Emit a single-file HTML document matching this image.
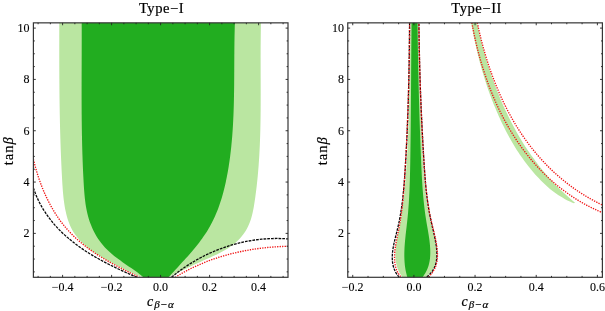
<!DOCTYPE html>
<html lang="en">
<head>
<meta charset="utf-8">
<title>Type-I / Type-II</title>
<style>
html,body{margin:0;padding:0;background:#fff;}
body{width:605px;height:311px;overflow:hidden;}
svg{display:block;}
</style>
</head>
<body>
<svg width="605" height="311" viewBox="0 0 605 311">
<rect x="0" y="0" width="605" height="311" fill="#ffffff"/>
<defs><clipPath id="cl"><rect x="33.40" y="22.85" width="254.60" height="254.45"/></clipPath><clipPath id="cr"><rect x="347.75" y="22.85" width="254.65" height="254.45"/></clipPath></defs>
<g clip-path="url(#cl)">
<path d="M59.30 22.50C59.30 23.35 59.29 25.92 59.29 27.63C59.29 29.33 59.28 31.04 59.28 32.75C59.28 34.45 59.27 36.16 59.27 37.87C59.27 39.57 59.27 41.28 59.27 42.98C59.27 44.69 59.26 46.39 59.26 48.10C59.26 49.80 59.26 51.51 59.26 53.21C59.27 54.91 59.27 56.62 59.27 58.32C59.27 60.02 59.28 61.72 59.28 63.43C59.28 65.13 59.29 66.83 59.30 68.53C59.30 70.23 59.31 71.94 59.32 73.64C59.32 75.34 59.33 77.04 59.34 78.74C59.35 80.44 59.37 82.14 59.38 83.84C59.39 85.55 59.41 87.25 59.42 88.95C59.44 90.65 59.45 92.35 59.47 94.05C59.49 95.75 59.51 97.45 59.53 99.15C59.55 100.85 59.58 102.55 59.60 104.25C59.63 105.95 59.65 107.65 59.68 109.35C59.71 111.05 59.74 112.75 59.77 114.46C59.80 116.16 59.84 117.86 59.87 119.56C59.91 121.26 59.95 122.96 59.99 124.66C60.03 126.36 60.07 128.07 60.11 129.77C60.16 131.47 60.20 133.17 60.25 134.87C60.30 136.58 60.35 138.28 60.41 139.98C60.46 141.68 60.51 143.39 60.57 145.09C60.63 146.79 60.69 148.50 60.75 150.20C60.82 151.91 60.88 153.61 60.95 155.32C61.02 157.02 61.09 158.73 61.17 160.43C61.24 162.14 61.32 163.85 61.40 165.55C61.48 167.26 61.56 168.97 61.64 170.67C61.73 172.38 61.82 174.09 61.91 175.80C62.00 177.51 62.09 179.22 62.19 180.93C62.29 182.64 62.39 184.35 62.51 186.06C62.62 187.77 62.74 189.48 62.88 191.18C63.02 192.88 63.17 194.58 63.35 196.28C63.52 197.98 63.72 199.67 63.94 201.35C64.17 203.04 64.41 204.71 64.70 206.38C64.99 208.05 65.30 209.71 65.66 211.36C66.01 213.01 66.40 214.66 66.85 216.28C67.29 217.91 67.77 219.53 68.32 221.11C68.87 222.70 69.46 224.27 70.14 225.80C70.82 227.33 71.56 228.84 72.39 230.29C73.22 231.75 74.14 233.17 75.12 234.54C76.09 235.92 77.15 237.25 78.25 238.54C79.36 239.83 80.53 241.07 81.73 242.27C82.93 243.47 84.19 244.62 85.48 245.73C86.76 246.85 88.09 247.91 89.44 248.95C90.79 249.98 92.18 250.97 93.59 251.94C94.99 252.91 96.43 253.84 97.88 254.75C99.33 255.66 100.81 256.54 102.30 257.41C103.78 258.27 105.29 259.11 106.79 259.95C108.30 260.78 109.82 261.59 111.34 262.40C112.86 263.21 114.38 264.00 115.90 264.80C117.42 265.59 118.93 266.38 120.44 267.17C121.95 267.96 123.45 268.76 124.95 269.54C126.46 270.31 127.96 271.08 129.48 271.81C130.99 272.54 132.51 273.26 134.06 273.92C135.60 274.58 137.16 275.21 138.75 275.78C140.34 276.34 142.79 277.05 143.60 277.30L168.50 277.30C169.25 276.93 171.49 275.80 172.98 275.06C174.48 274.31 175.98 273.57 177.48 272.83C178.97 272.09 180.48 271.35 181.98 270.62C183.49 269.88 185.00 269.15 186.51 268.42C188.03 267.69 189.55 266.97 191.07 266.25C192.60 265.52 194.13 264.81 195.67 264.09C197.21 263.37 198.76 262.66 200.31 261.95C201.87 261.24 203.43 260.53 205.01 259.83C206.58 259.12 208.16 258.43 209.74 257.71C211.32 257.00 212.91 256.29 214.48 255.55C216.05 254.81 217.62 254.07 219.16 253.28C220.71 252.50 222.24 251.70 223.74 250.85C225.24 250.00 226.72 249.13 228.16 248.19C229.59 247.26 231.00 246.28 232.36 245.25C233.71 244.22 235.03 243.14 236.29 242.01C237.55 240.87 238.76 239.69 239.90 238.46C241.04 237.23 242.13 235.95 243.13 234.62C244.14 233.30 245.08 231.92 245.93 230.50C246.78 229.09 247.55 227.62 248.25 226.11C248.95 224.61 249.56 223.06 250.12 221.49C250.69 219.92 251.18 218.31 251.63 216.68C252.09 215.05 252.48 213.39 252.84 211.72C253.21 210.05 253.52 208.35 253.83 206.66C254.13 204.96 254.39 203.25 254.65 201.54C254.91 199.84 255.15 198.12 255.39 196.41C255.63 194.70 255.85 193.00 256.07 191.29C256.28 189.58 256.49 187.87 256.68 186.16C256.88 184.46 257.06 182.75 257.24 181.04C257.42 179.33 257.59 177.63 257.75 175.92C257.91 174.22 258.06 172.51 258.20 170.80C258.35 169.10 258.48 167.39 258.61 165.69C258.74 163.98 258.86 162.28 258.97 160.57C259.09 158.87 259.19 157.16 259.29 155.46C259.39 153.76 259.48 152.05 259.57 150.35C259.66 148.65 259.74 146.94 259.81 145.24C259.88 143.53 259.95 141.83 260.01 140.13C260.08 138.43 260.13 136.72 260.19 135.02C260.24 133.32 260.28 131.61 260.33 129.91C260.37 128.21 260.41 126.51 260.44 124.80C260.48 123.10 260.50 121.40 260.53 119.70C260.56 117.99 260.58 116.29 260.60 114.59C260.62 112.89 260.63 111.19 260.65 109.48C260.66 107.78 260.67 106.08 260.68 104.38C260.68 102.67 260.69 100.97 260.69 99.27C260.70 97.57 260.70 95.86 260.70 94.16C260.70 92.46 260.70 90.75 260.69 89.05C260.69 87.35 260.69 85.64 260.68 83.94C260.68 82.24 260.67 80.53 260.67 78.83C260.66 77.13 260.66 75.42 260.65 73.72C260.65 72.01 260.64 70.31 260.64 68.61C260.63 66.90 260.63 65.20 260.63 63.49C260.62 61.79 260.62 60.08 260.62 58.37C260.62 56.67 260.62 54.96 260.63 53.26C260.63 51.55 260.64 49.84 260.64 48.14C260.65 46.43 260.66 44.72 260.68 43.01C260.69 41.31 260.71 39.60 260.73 37.89C260.75 36.18 260.77 34.47 260.79 32.76C260.82 31.05 260.85 29.34 260.89 27.63C260.92 25.92 260.98 23.36 261.00 22.50Z" fill="#bae6a1"/>
<path d="M81.70 22.50C81.70 23.37 81.71 25.97 81.72 27.70C81.72 29.44 81.72 31.17 81.72 32.90C81.73 34.63 81.73 36.36 81.73 38.09C81.73 39.82 81.72 41.55 81.72 43.27C81.72 45.00 81.72 46.73 81.71 48.45C81.71 50.18 81.70 51.90 81.70 53.62C81.69 55.35 81.69 57.07 81.68 58.79C81.68 60.51 81.67 62.23 81.67 63.95C81.66 65.67 81.65 67.39 81.65 69.11C81.64 70.83 81.64 72.55 81.63 74.27C81.63 75.99 81.62 77.71 81.62 79.42C81.61 81.14 81.61 82.86 81.61 84.57C81.61 86.29 81.60 88.01 81.60 89.73C81.60 91.44 81.60 93.16 81.60 94.87C81.60 96.59 81.61 98.31 81.61 100.02C81.61 101.74 81.62 103.46 81.63 105.17C81.63 106.89 81.64 108.61 81.65 110.32C81.66 112.04 81.67 113.76 81.69 115.48C81.70 117.19 81.72 118.91 81.73 120.63C81.75 122.35 81.77 124.07 81.79 125.79C81.82 127.51 81.84 129.23 81.87 130.95C81.90 132.67 81.93 134.39 81.96 136.11C81.99 137.83 82.03 139.55 82.07 141.28C82.11 143.00 82.15 144.73 82.19 146.45C82.24 148.18 82.28 149.90 82.33 151.63C82.39 153.36 82.44 155.08 82.50 156.81C82.56 158.54 82.62 160.27 82.68 162.00C82.75 163.73 82.82 165.47 82.89 167.20C82.96 168.94 83.04 170.67 83.12 172.41C83.20 174.14 83.29 175.88 83.38 177.62C83.47 179.36 83.56 181.10 83.66 182.84C83.76 184.58 83.86 186.33 83.98 188.07C84.10 189.81 84.22 191.56 84.37 193.29C84.51 195.03 84.67 196.76 84.87 198.49C85.06 200.22 85.27 201.94 85.51 203.65C85.76 205.36 86.04 207.06 86.36 208.75C86.67 210.44 87.03 212.12 87.43 213.78C87.83 215.44 88.27 217.09 88.77 218.72C89.26 220.35 89.81 221.96 90.40 223.55C90.99 225.14 91.63 226.71 92.32 228.25C93.01 229.80 93.75 231.32 94.54 232.81C95.33 234.29 96.17 235.76 97.06 237.18C97.95 238.61 98.89 240.01 99.89 241.37C100.88 242.73 101.93 244.05 103.03 245.33C104.13 246.62 105.28 247.86 106.48 249.06C107.68 250.27 108.94 251.43 110.22 252.57C111.51 253.71 112.84 254.81 114.19 255.89C115.55 256.97 116.94 258.02 118.34 259.06C119.74 260.10 121.16 261.12 122.59 262.13C124.02 263.15 125.47 264.14 126.91 265.14C128.35 266.13 129.80 267.12 131.22 268.12C132.65 269.11 134.08 270.10 135.48 271.11C136.88 272.12 138.28 273.12 139.63 274.16C140.98 275.19 142.94 276.78 143.60 277.30L168.50 277.30C169.07 276.67 170.76 274.76 171.91 273.50C173.06 272.23 174.22 270.97 175.38 269.70C176.54 268.44 177.71 267.17 178.88 265.90C180.05 264.63 181.22 263.36 182.39 262.09C183.56 260.81 184.73 259.54 185.89 258.25C187.05 256.97 188.21 255.68 189.35 254.38C190.50 253.08 191.63 251.77 192.75 250.45C193.87 249.14 194.98 247.81 196.07 246.47C197.15 245.14 198.22 243.79 199.27 242.43C200.32 241.06 201.34 239.69 202.34 238.30C203.34 236.91 204.31 235.50 205.25 234.08C206.19 232.65 207.10 231.21 207.98 229.76C208.86 228.30 209.70 226.82 210.51 225.33C211.33 223.83 212.10 222.32 212.85 220.80C213.60 219.27 214.32 217.73 215.01 216.17C215.70 214.62 216.36 213.05 217.00 211.46C217.63 209.88 218.24 208.28 218.82 206.68C219.40 205.07 219.95 203.45 220.49 201.82C221.02 200.20 221.52 198.56 222.01 196.91C222.49 195.26 222.96 193.61 223.40 191.95C223.84 190.28 224.26 188.61 224.66 186.94C225.06 185.26 225.44 183.58 225.81 181.89C226.17 180.21 226.52 178.52 226.85 176.82C227.18 175.13 227.49 173.43 227.79 171.74C228.09 170.04 228.38 168.34 228.65 166.64C228.92 164.94 229.18 163.24 229.43 161.53C229.67 159.83 229.91 158.13 230.13 156.42C230.35 154.72 230.55 153.01 230.75 151.30C230.95 149.60 231.13 147.89 231.31 146.18C231.48 144.47 231.65 142.76 231.80 141.05C231.96 139.34 232.10 137.63 232.24 135.92C232.37 134.21 232.49 132.49 232.61 130.78C232.73 129.07 232.84 127.35 232.94 125.64C233.04 123.92 233.13 122.21 233.21 120.49C233.30 118.78 233.37 117.06 233.45 115.34C233.52 113.63 233.58 111.91 233.64 110.19C233.70 108.47 233.75 106.76 233.80 105.04C233.84 103.32 233.89 101.60 233.92 99.88C233.96 98.16 233.99 96.44 234.02 94.72C234.05 93.00 234.08 91.28 234.10 89.56C234.12 87.84 234.14 86.12 234.16 84.40C234.17 82.68 234.19 80.96 234.20 79.24C234.21 77.52 234.22 75.79 234.23 74.07C234.24 72.35 234.25 70.63 234.26 68.91C234.27 67.19 234.28 65.47 234.28 63.75C234.29 62.03 234.30 60.31 234.31 58.59C234.32 56.86 234.33 55.14 234.34 53.42C234.36 51.70 234.37 49.98 234.39 48.26C234.40 46.54 234.42 44.83 234.44 43.11C234.47 41.39 234.49 39.67 234.52 37.95C234.55 36.23 234.58 34.51 234.62 32.80C234.66 31.08 234.70 29.36 234.74 27.65C234.79 25.93 234.87 23.36 234.90 22.50Z" fill="#22ad20"/>
<path d="M33.40 159.30C33.61 160.13 34.21 162.64 34.65 164.31C35.08 165.97 35.54 167.64 36.02 169.30C36.50 170.97 37.00 172.63 37.52 174.28C38.04 175.94 38.58 177.59 39.15 179.24C39.72 180.88 40.31 182.52 40.92 184.15C41.53 185.78 42.16 187.40 42.82 189.01C43.48 190.63 44.16 192.23 44.87 193.82C45.58 195.41 46.31 196.99 47.06 198.55C47.82 200.11 48.60 201.67 49.40 203.20C50.21 204.74 51.04 206.26 51.89 207.76C52.75 209.26 53.63 210.75 54.54 212.21C55.45 213.68 56.38 215.13 57.34 216.56C58.30 217.98 59.29 219.39 60.30 220.78C61.32 222.16 62.36 223.52 63.43 224.86C64.50 226.20 65.59 227.51 66.72 228.80C67.84 230.08 69.00 231.35 70.18 232.58C71.36 233.82 72.57 235.03 73.80 236.21C75.03 237.40 76.29 238.56 77.57 239.70C78.85 240.84 80.15 241.96 81.47 243.05C82.80 244.15 84.14 245.22 85.51 246.27C86.87 247.32 88.25 248.35 89.65 249.37C91.05 250.38 92.47 251.37 93.90 252.35C95.34 253.32 96.78 254.28 98.24 255.22C99.70 256.16 101.18 257.08 102.66 257.98C104.15 258.89 105.65 259.78 107.15 260.66C108.66 261.53 110.18 262.39 111.70 263.24C113.22 264.09 114.75 264.92 116.29 265.75C117.82 266.57 119.37 267.38 120.91 268.18C122.45 268.97 124.00 269.76 125.55 270.54C127.10 271.32 128.66 272.08 130.21 272.84C131.76 273.60 133.31 274.35 134.86 275.09C136.41 275.84 138.73 276.93 139.50 277.30" fill="none" stroke="#f01414" stroke-width="1.35" stroke-dasharray="1.3 1.2"/>
<path d="M175.20 277.30C175.97 276.84 178.26 275.42 179.80 274.51C181.35 273.61 182.91 272.73 184.49 271.87C186.06 271.01 187.65 270.18 189.24 269.37C190.84 268.56 192.45 267.77 194.07 267.00C195.69 266.24 197.32 265.50 198.96 264.78C200.60 264.06 202.25 263.37 203.91 262.70C205.57 262.02 207.24 261.37 208.92 260.74C210.60 260.11 212.29 259.51 213.98 258.92C215.68 258.34 217.38 257.78 219.09 257.23C220.80 256.69 222.52 256.17 224.24 255.67C225.97 255.18 227.70 254.70 229.44 254.24C231.18 253.78 232.92 253.35 234.67 252.93C236.42 252.52 238.17 252.12 239.93 251.75C241.69 251.37 243.45 251.02 245.22 250.68C246.98 250.35 248.75 250.03 250.53 249.74C252.30 249.44 254.08 249.17 255.86 248.91C257.64 248.65 259.42 248.42 261.20 248.20C262.99 247.98 264.77 247.78 266.56 247.60C268.34 247.42 270.13 247.26 271.92 247.11C273.71 246.97 275.50 246.84 277.28 246.73C279.07 246.63 280.86 246.54 282.64 246.46C284.43 246.39 287.11 246.33 288.00 246.30" fill="none" stroke="#f01414" stroke-width="1.35" stroke-dasharray="1.3 1.2"/>
<path d="M33.40 187.90C33.70 188.75 34.57 191.33 35.22 193.00C35.86 194.67 36.55 196.31 37.27 197.93C37.99 199.54 38.75 201.13 39.55 202.69C40.35 204.25 41.18 205.78 42.05 207.28C42.92 208.79 43.82 210.26 44.76 211.71C45.69 213.16 46.66 214.59 47.66 215.99C48.66 217.39 49.69 218.76 50.76 220.11C51.82 221.46 52.91 222.78 54.03 224.08C55.15 225.38 56.30 226.66 57.47 227.91C58.64 229.16 59.85 230.39 61.07 231.60C62.29 232.80 63.55 233.98 64.82 235.14C66.09 236.30 67.39 237.44 68.71 238.55C70.02 239.67 71.36 240.76 72.72 241.84C74.08 242.91 75.46 243.96 76.85 244.99C78.25 246.02 79.67 247.04 81.10 248.03C82.53 249.02 83.97 249.99 85.44 250.94C86.90 251.89 88.38 252.83 89.86 253.74C91.35 254.66 92.86 255.56 94.37 256.44C95.88 257.33 97.41 258.19 98.94 259.04C100.47 259.90 102.01 260.73 103.56 261.55C105.11 262.38 106.67 263.19 108.23 263.99C109.79 264.78 111.36 265.57 112.93 266.34C114.50 267.12 116.07 267.88 117.65 268.63C119.22 269.39 120.80 270.13 122.37 270.87C123.95 271.60 125.53 272.33 127.10 273.05C128.67 273.77 130.25 274.48 131.81 275.19C133.38 275.90 135.72 276.95 136.50 277.30" fill="none" stroke="#0a0a0a" stroke-width="1.3" stroke-dasharray="2.7 1.05"/>
<path d="M171.50 277.30C172.18 276.75 174.20 275.08 175.57 274.00C176.94 272.92 178.33 271.86 179.74 270.82C181.14 269.79 182.57 268.77 184.00 267.78C185.44 266.79 186.90 265.82 188.36 264.88C189.83 263.93 191.31 263.01 192.81 262.11C194.31 261.21 195.82 260.34 197.34 259.48C198.86 258.63 200.40 257.80 201.95 257.00C203.50 256.20 205.06 255.42 206.63 254.66C208.21 253.90 209.79 253.17 211.39 252.47C212.98 251.76 214.59 251.08 216.21 250.42C217.82 249.77 219.45 249.14 221.09 248.53C222.72 247.93 224.37 247.35 226.02 246.80C227.68 246.25 229.34 245.72 231.01 245.22C232.68 244.72 234.36 244.25 236.04 243.80C237.73 243.35 239.42 242.93 241.12 242.54C242.82 242.15 244.53 241.78 246.24 241.45C247.95 241.11 249.67 240.80 251.39 240.52C253.11 240.24 254.84 239.99 256.57 239.76C258.30 239.54 260.03 239.34 261.77 239.18C263.51 239.01 265.25 238.87 266.99 238.76C268.74 238.66 270.48 238.58 272.23 238.53C273.98 238.48 275.73 238.46 277.48 238.47C279.24 238.48 280.99 238.52 282.74 238.59C284.49 238.67 287.12 238.85 288.00 238.90" fill="none" stroke="#0a0a0a" stroke-width="1.3" stroke-dasharray="2.7 1.05"/>
</g>
<g clip-path="url(#cr)">
<path d="M410.60 22.50C410.58 23.36 410.53 25.93 410.49 27.64C410.46 29.35 410.43 31.07 410.39 32.78C410.36 34.49 410.33 36.21 410.30 37.92C410.27 39.64 410.24 41.35 410.21 43.07C410.18 44.78 410.15 46.50 410.12 48.22C410.09 49.93 410.07 51.65 410.04 53.36C410.01 55.08 409.98 56.80 409.96 58.52C409.93 60.23 409.90 61.95 409.87 63.67C409.85 65.38 409.82 67.10 409.79 68.82C409.76 70.54 409.73 72.25 409.70 73.97C409.67 75.69 409.64 77.41 409.61 79.13C409.58 80.84 409.55 82.56 409.52 84.28C409.49 86.00 409.45 87.72 409.42 89.43C409.39 91.15 409.35 92.87 409.31 94.59C409.28 96.30 409.24 98.02 409.20 99.74C409.16 101.46 409.12 103.18 409.08 104.89C409.03 106.61 408.99 108.33 408.94 110.04C408.90 111.76 408.85 113.48 408.80 115.20C408.75 116.91 408.69 118.63 408.64 120.34C408.58 122.06 408.53 123.78 408.47 125.49C408.41 127.21 408.35 128.92 408.28 130.64C408.22 132.35 408.15 134.07 408.08 135.78C408.01 137.50 407.94 139.21 407.86 140.92C407.79 142.64 407.71 144.35 407.63 146.06C407.54 147.78 407.46 149.49 407.37 151.20C407.28 152.91 407.19 154.62 407.09 156.34C407.00 158.05 406.90 159.76 406.79 161.47C406.69 163.18 406.58 164.89 406.47 166.59C406.36 168.30 406.25 170.01 406.13 171.72C406.01 173.43 405.89 175.13 405.76 176.84C405.63 178.55 405.50 180.25 405.35 181.96C405.21 183.66 405.07 185.37 404.91 187.07C404.76 188.78 404.60 190.48 404.43 192.19C404.26 193.90 404.08 195.60 403.89 197.31C403.70 199.01 403.51 200.72 403.30 202.42C403.09 204.13 402.87 205.83 402.64 207.54C402.42 209.25 402.18 210.95 401.92 212.66C401.67 214.37 401.41 216.08 401.13 217.79C400.85 219.49 400.56 221.20 400.25 222.91C399.95 224.63 399.63 226.34 399.30 228.05C398.96 229.76 398.61 231.47 398.27 233.18C397.93 234.89 397.58 236.61 397.26 238.31C396.95 240.01 396.64 241.71 396.38 243.41C396.13 245.10 395.89 246.79 395.73 248.46C395.57 250.14 395.44 251.80 395.40 253.46C395.37 255.11 395.39 256.75 395.51 258.38C395.63 260.00 395.83 261.62 396.15 263.21C396.47 264.80 396.88 266.38 397.43 267.93C397.97 269.49 398.63 271.03 399.44 272.54C400.25 274.05 401.82 276.26 402.30 277.00L425.70 277.00C426.41 276.37 428.76 274.55 429.97 273.23C431.19 271.91 432.17 270.51 433.00 269.07C433.83 267.63 434.46 266.12 434.96 264.59C435.47 263.06 435.79 261.47 436.03 259.86C436.26 258.26 436.35 256.61 436.37 254.96C436.39 253.31 436.30 251.63 436.17 249.95C436.03 248.28 435.82 246.59 435.57 244.90C435.33 243.20 435.02 241.51 434.69 239.80C434.36 238.10 433.98 236.40 433.60 234.69C433.21 232.98 432.80 231.27 432.39 229.55C431.98 227.84 431.55 226.12 431.15 224.40C430.75 222.69 430.34 220.97 429.96 219.25C429.59 217.54 429.23 215.82 428.90 214.10C428.56 212.39 428.25 210.67 427.95 208.95C427.65 207.24 427.38 205.52 427.11 203.81C426.85 202.09 426.61 200.37 426.37 198.66C426.14 196.94 425.93 195.23 425.72 193.51C425.52 191.79 425.33 190.08 425.15 188.36C424.97 186.64 424.81 184.93 424.65 183.21C424.49 181.49 424.34 179.78 424.20 178.06C424.06 176.34 423.93 174.62 423.81 172.91C423.68 171.19 423.56 169.47 423.45 167.75C423.33 166.03 423.23 164.31 423.12 162.59C423.01 160.87 422.91 159.14 422.81 157.42C422.70 155.70 422.60 153.98 422.51 152.25C422.41 150.53 422.31 148.80 422.22 147.08C422.12 145.35 422.03 143.63 421.94 141.90C421.85 140.17 421.76 138.45 421.68 136.72C421.59 134.99 421.51 133.26 421.43 131.53C421.34 129.81 421.26 128.08 421.18 126.35C421.11 124.62 421.03 122.89 420.95 121.16C420.88 119.43 420.80 117.70 420.73 115.97C420.66 114.24 420.59 112.50 420.52 110.77C420.45 109.04 420.39 107.31 420.32 105.58C420.26 103.85 420.19 102.11 420.13 100.38C420.07 98.65 420.01 96.92 419.95 95.18C419.89 93.45 419.83 91.72 419.77 89.99C419.72 88.25 419.66 86.52 419.61 84.79C419.56 83.06 419.50 81.32 419.45 79.59C419.40 77.86 419.35 76.12 419.31 74.39C419.26 72.66 419.21 70.93 419.17 69.19C419.12 67.46 419.08 65.73 419.03 64.00C418.99 62.27 418.95 60.53 418.91 58.80C418.87 57.07 418.83 55.34 418.79 53.61C418.75 51.88 418.71 50.15 418.68 48.42C418.64 46.69 418.60 44.96 418.57 43.23C418.53 41.50 418.50 39.77 418.47 38.04C418.44 36.31 418.40 34.59 418.37 32.86C418.34 31.13 418.31 29.40 418.28 27.68C418.26 25.95 418.21 23.36 418.20 22.50Z" fill="#bae6a1"/>
<path d="M411.60 22.50C411.59 23.35 411.56 25.91 411.54 27.61C411.52 29.32 411.50 31.02 411.48 32.73C411.46 34.43 411.44 36.14 411.43 37.84C411.41 39.54 411.39 41.25 411.38 42.95C411.36 44.66 411.35 46.36 411.33 48.07C411.32 49.77 411.30 51.48 411.29 53.18C411.27 54.89 411.26 56.59 411.25 58.29C411.23 60.00 411.22 61.70 411.21 63.41C411.19 65.11 411.18 66.82 411.17 68.52C411.16 70.23 411.15 71.93 411.13 73.64C411.12 75.34 411.11 77.04 411.10 78.75C411.09 80.45 411.07 82.16 411.06 83.86C411.05 85.57 411.04 87.27 411.03 88.98C411.01 90.68 411.00 92.39 410.99 94.09C410.98 95.79 410.97 97.50 410.95 99.20C410.94 100.91 410.93 102.61 410.91 104.32C410.90 106.02 410.89 107.73 410.87 109.43C410.86 111.14 410.85 112.84 410.83 114.54C410.82 116.25 410.80 117.95 410.79 119.66C410.77 121.36 410.75 123.07 410.74 124.77C410.72 126.47 410.70 128.18 410.69 129.88C410.67 131.59 410.65 133.29 410.63 135.00C410.61 136.70 410.59 138.41 410.57 140.11C410.55 141.81 410.53 143.52 410.50 145.22C410.48 146.93 410.46 148.63 410.43 150.34C410.41 152.04 410.38 153.74 410.36 155.45C410.33 157.15 410.30 158.86 410.28 160.56C410.25 162.26 410.22 163.97 410.19 165.67C410.15 167.38 410.12 169.08 410.08 170.79C410.05 172.49 410.01 174.19 409.96 175.90C409.92 177.60 409.87 179.30 409.82 181.01C409.77 182.71 409.71 184.42 409.65 186.12C409.58 187.82 409.51 189.53 409.44 191.23C409.36 192.93 409.28 194.63 409.19 196.34C409.10 198.04 409.00 199.74 408.90 201.44C408.79 203.15 408.68 204.85 408.55 206.55C408.43 208.25 408.29 209.95 408.15 211.65C408.00 213.36 407.85 215.06 407.69 216.76C407.52 218.46 407.34 220.16 407.15 221.86C406.97 223.56 406.77 225.26 406.57 226.96C406.37 228.65 406.17 230.35 405.97 232.05C405.78 233.75 405.59 235.44 405.41 237.14C405.23 238.83 405.06 240.52 404.92 242.21C404.78 243.90 404.65 245.59 404.55 247.28C404.46 248.96 404.38 250.65 404.35 252.33C404.31 254.01 404.31 255.69 404.35 257.36C404.39 259.04 404.47 260.71 404.60 262.38C404.73 264.05 404.91 265.72 405.15 267.38C405.39 269.04 405.67 270.70 406.03 272.35C406.39 274.01 407.09 276.48 407.30 277.30L422.70 277.00C423.19 276.26 424.79 274.06 425.64 272.55C426.48 271.04 427.17 269.50 427.76 267.95C428.35 266.39 428.80 264.81 429.17 263.22C429.54 261.62 429.80 260.01 429.98 258.38C430.17 256.75 430.25 255.11 430.29 253.45C430.32 251.80 430.28 250.13 430.20 248.46C430.11 246.79 429.97 245.10 429.80 243.41C429.63 241.73 429.40 240.03 429.17 238.33C428.93 236.63 428.66 234.92 428.38 233.21C428.10 231.50 427.80 229.79 427.50 228.07C427.21 226.36 426.90 224.64 426.61 222.93C426.32 221.21 426.04 219.49 425.78 217.78C425.51 216.06 425.27 214.35 425.04 212.64C424.80 210.92 424.59 209.21 424.38 207.50C424.18 205.79 423.99 204.08 423.81 202.37C423.63 200.66 423.46 198.95 423.31 197.24C423.15 195.53 423.01 193.82 422.87 192.11C422.73 190.40 422.61 188.69 422.49 186.98C422.37 185.27 422.26 183.57 422.15 181.86C422.05 180.15 421.95 178.44 421.86 176.74C421.77 175.03 421.68 173.32 421.60 171.61C421.51 169.90 421.44 168.19 421.36 166.49C421.28 164.78 421.21 163.07 421.14 161.36C421.07 159.65 421.00 157.94 420.93 156.23C420.86 154.52 420.79 152.81 420.72 151.10C420.65 149.39 420.59 147.68 420.52 145.96C420.46 144.25 420.39 142.54 420.33 140.83C420.26 139.11 420.20 137.40 420.14 135.69C420.08 133.98 420.02 132.26 419.96 130.55C419.90 128.83 419.84 127.12 419.79 125.41C419.73 123.69 419.67 121.98 419.62 120.26C419.56 118.55 419.51 116.83 419.46 115.12C419.40 113.40 419.35 111.69 419.30 109.97C419.25 108.26 419.20 106.54 419.15 104.83C419.10 103.11 419.05 101.39 419.00 99.68C418.96 97.96 418.91 96.25 418.87 94.53C418.82 92.81 418.78 91.10 418.73 89.38C418.69 87.67 418.65 85.95 418.60 84.23C418.56 82.52 418.52 80.80 418.48 79.08C418.44 77.37 418.40 75.65 418.37 73.94C418.33 72.22 418.29 70.50 418.26 68.79C418.22 67.07 418.18 65.36 418.15 63.64C418.12 61.92 418.08 60.21 418.05 58.49C418.02 56.78 417.99 55.06 417.96 53.35C417.93 51.63 417.90 49.92 417.87 48.20C417.84 46.49 417.81 44.77 417.78 43.06C417.76 41.34 417.73 39.63 417.71 37.92C417.68 36.20 417.66 34.49 417.63 32.78C417.61 31.06 417.59 29.35 417.56 27.64C417.54 25.92 417.51 23.36 417.50 22.50Z" fill="#22ad20"/>
<path d="M477.00 22.80C477.18 23.64 477.72 26.17 478.09 27.85C478.47 29.54 478.85 31.22 479.25 32.91C479.64 34.59 480.04 36.28 480.46 37.96C480.87 39.65 481.29 41.33 481.73 43.01C482.16 44.70 482.60 46.38 483.06 48.06C483.51 49.74 483.97 51.42 484.45 53.10C484.92 54.78 485.41 56.45 485.90 58.13C486.40 59.80 486.90 61.47 487.42 63.14C487.94 64.81 488.46 66.48 489.00 68.14C489.54 69.80 490.09 71.46 490.65 73.12C491.21 74.78 491.78 76.43 492.36 78.08C492.94 79.73 493.54 81.38 494.14 83.02C494.75 84.67 495.36 86.31 495.99 87.94C496.62 89.57 497.26 91.20 497.91 92.83C498.56 94.45 499.22 96.07 499.90 97.69C500.57 99.30 501.26 100.91 501.95 102.52C502.65 104.12 503.36 105.72 504.08 107.31C504.81 108.90 505.54 110.49 506.29 112.06C507.03 113.64 507.79 115.22 508.56 116.78C509.33 118.35 510.12 119.91 510.91 121.46C511.71 123.01 512.52 124.55 513.34 126.09C514.16 127.63 514.99 129.16 515.84 130.68C516.69 132.20 517.55 133.71 518.42 135.21C519.29 136.72 520.18 138.21 521.08 139.70C521.98 141.19 522.89 142.67 523.81 144.13C524.74 145.60 525.68 147.06 526.63 148.51C527.58 149.96 528.55 151.40 529.53 152.83C530.51 154.26 531.50 155.68 532.51 157.09C533.52 158.50 534.54 159.90 535.57 161.29C536.61 162.67 537.66 164.05 538.72 165.42C539.78 166.78 540.86 168.14 541.95 169.48C543.04 170.82 544.15 172.15 545.27 173.47C546.39 174.79 547.52 176.10 548.67 177.39C549.82 178.69 550.99 179.97 552.16 181.24C553.34 182.50 554.54 183.76 555.74 185.00C556.95 186.25 558.17 187.48 559.41 188.69C560.65 189.91 561.90 191.11 563.17 192.30C564.44 193.49 565.72 194.66 567.02 195.82C568.32 196.98 569.64 198.12 570.97 199.25C572.30 200.38 574.33 202.04 575.00 202.60L574.00 203.20C573.20 202.86 570.79 201.91 569.23 201.19C567.67 200.47 566.15 199.70 564.65 198.89C563.15 198.08 561.69 197.22 560.25 196.33C558.81 195.43 557.40 194.49 556.02 193.52C554.64 192.55 553.28 191.54 551.95 190.49C550.62 189.45 549.32 188.37 548.04 187.27C546.76 186.16 545.50 185.02 544.27 183.86C543.03 182.70 541.82 181.50 540.63 180.29C539.44 179.08 538.27 177.84 537.12 176.59C535.97 175.33 534.83 174.05 533.72 172.76C532.60 171.47 531.51 170.16 530.43 168.84C529.35 167.51 528.29 166.17 527.25 164.81C526.21 163.46 525.18 162.08 524.17 160.70C523.16 159.31 522.17 157.91 521.20 156.50C520.22 155.09 519.27 153.66 518.32 152.22C517.38 150.79 516.46 149.34 515.55 147.88C514.64 146.42 513.75 144.95 512.87 143.47C511.99 141.99 511.13 140.50 510.29 139.00C509.44 137.51 508.61 136.00 507.79 134.49C506.98 132.97 506.18 131.45 505.39 129.92C504.60 128.40 503.83 126.87 503.07 125.33C502.31 123.79 501.57 122.24 500.84 120.70C500.11 119.15 499.39 117.59 498.69 116.03C497.99 114.47 497.30 112.91 496.63 111.34C495.95 109.77 495.29 108.20 494.64 106.62C493.99 105.04 493.35 103.45 492.73 101.86C492.11 100.28 491.49 98.68 490.90 97.08C490.30 95.49 489.71 93.88 489.14 92.28C488.56 90.67 488.00 89.06 487.45 87.45C486.90 85.83 486.36 84.21 485.83 82.59C485.30 80.97 484.79 79.34 484.28 77.71C483.78 76.08 483.28 74.45 482.80 72.81C482.31 71.17 481.84 69.53 481.38 67.89C480.92 66.24 480.47 64.59 480.02 62.94C479.58 61.29 479.15 59.64 478.73 57.98C478.31 56.32 477.89 54.66 477.49 53.00C477.09 51.34 476.70 49.67 476.31 48.00C475.93 46.34 475.55 44.66 475.19 42.99C474.82 41.32 474.46 39.64 474.12 37.96C473.77 36.28 473.43 34.60 473.09 32.92C472.76 31.24 472.44 29.55 472.12 27.87C471.81 26.18 471.35 23.64 471.20 22.80Z" fill="#bae6a1"/>
<path d="M409.60 22.50C409.59 23.36 409.57 25.93 409.56 27.64C409.54 29.36 409.53 31.07 409.51 32.79C409.50 34.51 409.48 36.22 409.46 37.94C409.44 39.66 409.42 41.37 409.40 43.09C409.38 44.81 409.36 46.53 409.34 48.24C409.32 49.96 409.30 51.68 409.27 53.40C409.25 55.12 409.22 56.84 409.20 58.56C409.17 60.28 409.14 62.00 409.11 63.71C409.08 65.43 409.05 67.15 409.02 68.87C408.99 70.59 408.96 72.31 408.92 74.03C408.89 75.75 408.85 77.47 408.82 79.19C408.78 80.91 408.74 82.63 408.70 84.35C408.66 86.08 408.62 87.80 408.58 89.52C408.53 91.24 408.49 92.96 408.44 94.68C408.40 96.40 408.35 98.12 408.30 99.84C408.25 101.56 408.20 103.28 408.14 105.00C408.09 106.72 408.04 108.44 407.98 110.16C407.92 111.87 407.86 113.59 407.80 115.31C407.74 117.03 407.68 118.75 407.61 120.47C407.55 122.19 407.48 123.91 407.41 125.62C407.34 127.34 407.27 129.06 407.20 130.78C407.13 132.49 407.05 134.21 406.98 135.93C406.90 137.64 406.82 139.36 406.74 141.08C406.65 142.79 406.57 144.51 406.48 146.22C406.40 147.94 406.31 149.65 406.22 151.36C406.13 153.08 406.03 154.79 405.94 156.50C405.84 158.22 405.74 159.93 405.64 161.64C405.54 163.35 405.44 165.06 405.33 166.77C405.22 168.48 405.12 170.19 405.00 171.90C404.89 173.61 404.78 175.32 404.66 177.03C404.53 178.74 404.41 180.45 404.28 182.15C404.14 183.86 404.01 185.57 403.86 187.27C403.71 188.98 403.55 190.68 403.38 192.39C403.22 194.09 403.04 195.80 402.85 197.50C402.66 199.21 402.45 200.91 402.24 202.62C402.02 204.32 401.79 206.03 401.54 207.73C401.29 209.44 401.03 211.14 400.75 212.84C400.47 214.55 400.17 216.25 399.85 217.96C399.53 219.66 399.19 221.36 398.83 223.07C398.47 224.77 398.08 226.48 397.68 228.18C397.28 229.89 396.85 231.59 396.43 233.29C396.01 235.00 395.56 236.70 395.16 238.39C394.75 240.09 394.35 241.78 394.00 243.47C393.65 245.15 393.31 246.83 393.05 248.50C392.79 250.17 392.57 251.84 392.44 253.49C392.31 255.14 392.24 256.78 392.28 258.41C392.32 260.03 392.43 261.65 392.68 263.25C392.94 264.84 393.29 266.43 393.82 267.98C394.34 269.54 394.99 271.07 395.84 272.58C396.68 274.08 398.39 276.26 398.90 277.00" fill="none" stroke="#0a0a0a" stroke-width="1.3" stroke-dasharray="2.7 1.05"/>
<path d="M426.70 277.00C427.38 276.36 429.64 274.50 430.81 273.16C431.98 271.82 432.91 270.40 433.71 268.95C434.50 267.50 435.10 265.99 435.57 264.44C436.05 262.90 436.36 261.31 436.57 259.70C436.79 258.09 436.86 256.44 436.88 254.79C436.89 253.14 436.80 251.46 436.66 249.78C436.53 248.10 436.31 246.41 436.07 244.71C435.83 243.02 435.52 241.32 435.20 239.62C434.88 237.91 434.51 236.20 434.14 234.49C433.76 232.78 433.36 231.06 432.96 229.35C432.57 227.63 432.15 225.91 431.76 224.19C431.37 222.48 430.98 220.76 430.62 219.04C430.26 217.32 429.91 215.60 429.59 213.88C429.27 212.17 428.97 210.45 428.68 208.73C428.39 207.02 428.13 205.30 427.87 203.59C427.62 201.87 427.39 200.16 427.16 198.44C426.94 196.73 426.73 195.01 426.54 193.30C426.34 191.58 426.16 189.87 425.99 188.15C425.81 186.44 425.65 184.73 425.50 183.01C425.35 181.30 425.20 179.58 425.07 177.86C424.93 176.15 424.80 174.43 424.68 172.72C424.56 171.00 424.44 169.28 424.32 167.57C424.21 165.85 424.10 164.13 423.99 162.41C423.89 160.69 423.78 158.97 423.68 157.25C423.57 155.53 423.47 153.81 423.37 152.09C423.27 150.37 423.17 148.65 423.07 146.92C422.97 145.20 422.88 143.48 422.78 141.75C422.69 140.03 422.59 138.31 422.50 136.58C422.41 134.85 422.32 133.13 422.23 131.40C422.14 129.68 422.06 127.95 421.97 126.22C421.88 124.49 421.80 122.77 421.72 121.04C421.64 119.31 421.55 117.58 421.48 115.85C421.40 114.13 421.32 112.40 421.24 110.67C421.17 108.94 421.09 107.21 421.02 105.48C420.95 103.75 420.88 102.02 420.81 100.29C420.74 98.56 420.67 96.83 420.61 95.10C420.54 93.37 420.48 91.64 420.41 89.91C420.35 88.18 420.29 86.44 420.23 84.71C420.17 82.98 420.12 81.25 420.06 79.52C420.01 77.79 419.95 76.06 419.90 74.33C419.85 72.60 419.80 70.87 419.75 69.14C419.70 67.41 419.66 65.68 419.61 63.95C419.57 62.22 419.53 60.49 419.48 58.76C419.44 57.03 419.40 55.30 419.37 53.57C419.33 51.84 419.29 50.12 419.26 48.39C419.23 46.66 419.20 44.93 419.17 43.20C419.14 41.48 419.11 39.75 419.08 38.02C419.06 36.30 419.03 34.57 419.01 32.85C418.99 31.12 418.97 29.40 418.95 27.67C418.93 25.95 418.91 23.36 418.90 22.50" fill="none" stroke="#0a0a0a" stroke-width="1.3" stroke-dasharray="2.7 1.05"/>
<path d="M409.60 22.50C409.60 23.36 409.59 25.93 409.59 27.64C409.58 29.35 409.57 31.06 409.56 32.78C409.55 34.49 409.54 36.20 409.53 37.92C409.51 39.63 409.50 41.35 409.48 43.06C409.46 44.77 409.44 46.49 409.42 48.20C409.40 49.92 409.38 51.63 409.36 53.35C409.33 55.06 409.31 56.78 409.28 58.49C409.25 60.21 409.22 61.92 409.19 63.64C409.16 65.35 409.12 67.07 409.09 68.78C409.05 70.50 409.02 72.21 408.98 73.93C408.94 75.64 408.90 77.36 408.86 79.07C408.82 80.79 408.77 82.50 408.73 84.22C408.68 85.93 408.64 87.65 408.59 89.36C408.54 91.08 408.49 92.79 408.44 94.51C408.38 96.22 408.33 97.94 408.28 99.65C408.22 101.37 408.16 103.08 408.11 104.80C408.05 106.51 407.99 108.23 407.92 109.94C407.86 111.66 407.80 113.37 407.73 115.09C407.67 116.80 407.60 118.52 407.53 120.23C407.47 121.94 407.40 123.66 407.33 125.37C407.25 127.08 407.18 128.80 407.11 130.51C407.03 132.22 406.96 133.94 406.88 135.65C406.80 137.36 406.72 139.07 406.64 140.79C406.56 142.50 406.48 144.21 406.40 145.92C406.31 147.63 406.23 149.35 406.14 151.06C406.05 152.77 405.97 154.48 405.88 156.19C405.79 157.90 405.70 159.61 405.60 161.32C405.51 163.03 405.42 164.74 405.32 166.45C405.23 168.16 405.13 169.86 405.03 171.57C404.93 173.28 404.83 174.99 404.73 176.70C404.62 178.40 404.52 180.11 404.40 181.82C404.29 183.52 404.17 185.23 404.05 186.94C403.92 188.64 403.80 190.35 403.66 192.05C403.52 193.76 403.37 195.46 403.21 197.17C403.06 198.87 402.89 200.58 402.71 202.28C402.54 203.99 402.35 205.69 402.15 207.40C401.94 209.10 401.73 210.80 401.50 212.51C401.27 214.21 401.03 215.91 400.77 217.62C400.51 219.32 400.24 221.02 399.94 222.73C399.65 224.43 399.34 226.13 399.01 227.84C398.69 229.54 398.33 231.24 397.99 232.94C397.64 234.64 397.28 236.34 396.95 238.04C396.62 239.74 396.28 241.43 395.99 243.12C395.70 244.81 395.42 246.50 395.21 248.18C394.99 249.86 394.80 251.54 394.69 253.21C394.58 254.88 394.51 256.54 394.54 258.19C394.57 259.85 394.65 261.50 394.87 263.12C395.09 264.75 395.40 266.36 395.89 267.94C396.38 269.52 396.99 271.08 397.82 272.59C398.66 274.10 400.39 276.26 400.90 277.00" fill="none" stroke="#f01414" stroke-width="1.35" stroke-dasharray="1.3 1.2"/>
<path d="M428.60 277.00C429.21 276.30 431.21 274.23 432.25 272.79C433.28 271.34 434.11 269.85 434.81 268.34C435.51 266.82 436.02 265.27 436.43 263.70C436.84 262.13 437.09 260.53 437.26 258.91C437.42 257.29 437.46 255.65 437.44 254.01C437.42 252.36 437.29 250.69 437.13 249.03C436.96 247.36 436.72 245.68 436.45 244.00C436.18 242.32 435.85 240.63 435.50 238.94C435.15 237.25 434.75 235.55 434.36 233.85C433.96 232.15 433.53 230.44 433.12 228.74C432.70 227.03 432.27 225.33 431.86 223.62C431.45 221.91 431.05 220.20 430.68 218.49C430.30 216.78 429.95 215.07 429.62 213.36C429.29 211.65 428.98 209.94 428.69 208.23C428.39 206.53 428.12 204.82 427.86 203.11C427.60 201.40 427.36 199.69 427.14 197.98C426.91 196.27 426.70 194.56 426.50 192.85C426.30 191.14 426.12 189.43 425.94 187.72C425.77 186.01 425.61 184.30 425.45 182.59C425.30 180.88 425.16 179.16 425.02 177.45C424.88 175.74 424.76 174.03 424.63 172.32C424.51 170.60 424.39 168.89 424.28 167.18C424.17 165.46 424.06 163.75 423.95 162.03C423.85 160.32 423.74 158.60 423.64 156.89C423.53 155.17 423.43 153.45 423.33 151.73C423.23 150.02 423.13 148.30 423.04 146.58C422.94 144.86 422.84 143.14 422.75 141.42C422.66 139.70 422.56 137.98 422.47 136.26C422.38 134.54 422.29 132.82 422.20 131.10C422.12 129.38 422.03 127.65 421.95 125.93C421.86 124.21 421.78 122.49 421.70 120.76C421.62 119.04 421.54 117.32 421.46 115.59C421.38 113.87 421.30 112.14 421.23 110.42C421.15 108.70 421.08 106.97 421.01 105.25C420.94 103.52 420.87 101.80 420.80 100.07C420.73 98.35 420.67 96.62 420.60 94.90C420.54 93.17 420.47 91.45 420.41 89.72C420.35 88.00 420.29 86.27 420.23 84.54C420.17 82.82 420.12 81.09 420.06 79.37C420.01 77.64 419.96 75.92 419.90 74.19C419.85 72.47 419.80 70.74 419.76 69.02C419.71 67.29 419.66 65.57 419.62 63.84C419.57 62.12 419.53 60.39 419.49 58.67C419.45 56.94 419.41 55.22 419.37 53.49C419.34 51.77 419.30 50.05 419.27 48.32C419.23 46.60 419.20 44.88 419.17 43.15C419.14 41.43 419.11 39.71 419.09 37.99C419.06 36.26 419.04 34.54 419.01 32.82C418.99 31.10 418.97 29.38 418.95 27.66C418.93 25.94 418.91 23.36 418.90 22.50" fill="none" stroke="#f01414" stroke-width="1.35" stroke-dasharray="1.3 1.2"/>
<path d="M471.90 22.80C472.05 23.63 472.50 26.11 472.82 27.77C473.14 29.43 473.46 31.08 473.80 32.74C474.14 34.40 474.49 36.06 474.86 37.72C475.22 39.37 475.59 41.03 475.98 42.69C476.37 44.35 476.76 46.00 477.17 47.66C477.58 49.31 478.00 50.97 478.44 52.62C478.87 54.27 479.32 55.92 479.78 57.57C480.23 59.22 480.70 60.86 481.19 62.50C481.67 64.15 482.16 65.79 482.67 67.42C483.18 69.06 483.70 70.70 484.23 72.33C484.77 73.96 485.31 75.58 485.87 77.20C486.43 78.83 487.00 80.44 487.59 82.06C488.17 83.67 488.77 85.28 489.38 86.88C489.99 88.48 490.62 90.08 491.26 91.68C491.90 93.27 492.55 94.85 493.21 96.44C493.88 98.02 494.56 99.59 495.25 101.16C495.94 102.72 496.65 104.29 497.37 105.84C498.09 107.39 498.83 108.94 499.58 110.48C500.32 112.02 501.09 113.55 501.86 115.07C502.64 116.60 503.43 118.11 504.24 119.62C505.05 121.12 505.87 122.62 506.70 124.11C507.54 125.60 508.39 127.08 509.25 128.55C510.12 130.02 511.00 131.48 511.89 132.93C512.78 134.38 513.69 135.82 514.62 137.24C515.54 138.67 516.48 140.09 517.44 141.50C518.39 142.91 519.37 144.30 520.35 145.69C521.34 147.07 522.34 148.45 523.36 149.81C524.37 151.17 525.41 152.52 526.45 153.85C527.50 155.19 528.56 156.51 529.64 157.82C530.72 159.13 531.82 160.43 532.92 161.71C534.03 162.99 535.16 164.26 536.30 165.52C537.44 166.77 538.59 168.01 539.76 169.24C540.93 170.47 542.12 171.68 543.32 172.87C544.52 174.07 545.73 175.25 546.96 176.41C548.19 177.58 549.44 178.73 550.70 179.86C551.96 180.99 553.23 182.11 554.52 183.21C555.81 184.31 557.11 185.39 558.43 186.45C559.75 187.52 561.09 188.56 562.44 189.59C563.79 190.62 565.15 191.63 566.53 192.62C567.91 193.62 569.30 194.59 570.71 195.54C572.12 196.50 573.54 197.43 574.97 198.35C576.41 199.27 577.86 200.16 579.33 201.04C580.80 201.91 582.28 202.77 583.77 203.60C585.27 204.44 586.78 205.25 588.30 206.05C589.82 206.84 591.36 207.61 592.91 208.36C594.47 209.11 596.03 209.84 597.62 210.55C599.20 211.25 601.60 212.26 602.40 212.60" fill="none" stroke="#f01414" stroke-width="1.35" stroke-dasharray="1.3 1.2"/>
<path d="M477.30 22.80C477.48 23.64 478.02 26.16 478.39 27.84C478.77 29.52 479.15 31.21 479.55 32.89C479.94 34.57 480.35 36.25 480.77 37.93C481.19 39.61 481.62 41.29 482.06 42.97C482.50 44.65 482.95 46.33 483.42 48.00C483.89 49.68 484.36 51.35 484.85 53.03C485.34 54.70 485.84 56.37 486.36 58.03C486.87 59.70 487.40 61.36 487.93 63.02C488.47 64.68 489.02 66.34 489.59 68.00C490.15 69.65 490.73 71.30 491.32 72.94C491.91 74.59 492.51 76.23 493.12 77.86C493.74 79.50 494.37 81.13 495.01 82.75C495.65 84.38 496.31 86.00 496.98 87.61C497.64 89.22 498.33 90.83 499.02 92.43C499.72 94.03 500.43 95.63 501.15 97.22C501.87 98.80 502.61 100.38 503.36 101.96C504.12 103.53 504.88 105.09 505.66 106.65C506.44 108.21 507.24 109.75 508.05 111.29C508.86 112.83 509.68 114.37 510.52 115.89C511.36 117.41 512.21 118.92 513.08 120.43C513.95 121.93 514.83 123.42 515.73 124.91C516.63 126.39 517.54 127.86 518.47 129.32C519.40 130.78 520.35 132.24 521.31 133.68C522.27 135.12 523.24 136.54 524.24 137.96C525.23 139.38 526.24 140.78 527.26 142.17C528.28 143.57 529.32 144.95 530.38 146.31C531.43 147.68 532.50 149.04 533.59 150.38C534.68 151.72 535.78 153.05 536.90 154.36C538.02 155.67 539.15 156.97 540.30 158.26C541.45 159.55 542.62 160.82 543.80 162.08C544.98 163.33 546.18 164.58 547.39 165.80C548.60 167.03 549.83 168.24 551.07 169.44C552.32 170.64 553.58 171.82 554.85 172.98C556.12 174.15 557.41 175.30 558.72 176.43C560.02 177.56 561.34 178.68 562.68 179.78C564.02 180.88 565.37 181.96 566.73 183.02C568.10 184.09 569.48 185.14 570.88 186.17C572.27 187.20 573.68 188.21 575.11 189.20C576.54 190.19 577.98 191.17 579.44 192.12C580.89 193.08 582.36 194.02 583.85 194.94C585.34 195.85 586.84 196.75 588.35 197.63C589.87 198.51 591.40 199.37 592.95 200.21C594.50 201.05 596.06 201.87 597.63 202.67C599.21 203.46 601.61 204.61 602.40 205.00" fill="none" stroke="#f01414" stroke-width="1.35" stroke-dasharray="1.3 1.2"/>
</g>
<rect x="33.40" y="22.85" width="254.60" height="254.45" fill="none" stroke="#363636" stroke-width="1.2"/>
<path d="M38.10 277.30v-1.40M38.10 22.85v1.40M50.35 277.30v-1.40M50.35 22.85v1.40M62.60 277.30v-2.40M62.60 22.85v2.40M74.85 277.30v-1.40M74.85 22.85v1.40M87.10 277.30v-1.40M87.10 22.85v1.40M99.35 277.30v-1.40M99.35 22.85v1.40M111.60 277.30v-2.40M111.60 22.85v2.40M123.85 277.30v-1.40M123.85 22.85v1.40M136.10 277.30v-1.40M136.10 22.85v1.40M148.35 277.30v-1.40M148.35 22.85v1.40M160.60 277.30v-2.40M160.60 22.85v2.40M172.85 277.30v-1.40M172.85 22.85v1.40M185.10 277.30v-1.40M185.10 22.85v1.40M197.35 277.30v-1.40M197.35 22.85v1.40M209.60 277.30v-2.40M209.60 22.85v2.40M221.85 277.30v-1.40M221.85 22.85v1.40M234.10 277.30v-1.40M234.10 22.85v1.40M246.35 277.30v-1.40M246.35 22.85v1.40M258.60 277.30v-2.40M258.60 22.85v2.40M270.85 277.30v-1.40M270.85 22.85v1.40M283.10 277.30v-1.40M283.10 22.85v1.40M33.40 271.87h1.40M288.00 271.87h-1.40M33.40 259.04h1.40M288.00 259.04h-1.40M33.40 246.21h1.40M288.00 246.21h-1.40M33.40 233.38h2.40M288.00 233.38h-2.40M33.40 220.55h1.40M288.00 220.55h-1.40M33.40 207.72h1.40M288.00 207.72h-1.40M33.40 194.89h1.40M288.00 194.89h-1.40M33.40 182.06h2.40M288.00 182.06h-2.40M33.40 169.23h1.40M288.00 169.23h-1.40M33.40 156.40h1.40M288.00 156.40h-1.40M33.40 143.57h1.40M288.00 143.57h-1.40M33.40 130.74h2.40M288.00 130.74h-2.40M33.40 117.91h1.40M288.00 117.91h-1.40M33.40 105.08h1.40M288.00 105.08h-1.40M33.40 92.25h1.40M288.00 92.25h-1.40M33.40 79.42h2.40M288.00 79.42h-2.40M33.40 66.59h1.40M288.00 66.59h-1.40M33.40 53.76h1.40M288.00 53.76h-1.40M33.40 40.93h1.40M288.00 40.93h-1.40M33.40 28.10h2.40M288.00 28.10h-2.40" fill="none" stroke="#222" stroke-width="0.9"/>
<rect x="347.75" y="22.85" width="254.65" height="254.45" fill="none" stroke="#363636" stroke-width="1.2"/>
<path d="M352.74 277.30v-2.40M352.74 22.85v2.40M368.03 277.30v-1.40M368.03 22.85v1.40M383.32 277.30v-1.40M383.32 22.85v1.40M398.61 277.30v-1.40M398.61 22.85v1.40M413.90 277.30v-2.40M413.90 22.85v2.40M429.19 277.30v-1.40M429.19 22.85v1.40M444.48 277.30v-1.40M444.48 22.85v1.40M459.77 277.30v-1.40M459.77 22.85v1.40M475.06 277.30v-2.40M475.06 22.85v2.40M490.35 277.30v-1.40M490.35 22.85v1.40M505.64 277.30v-1.40M505.64 22.85v1.40M520.93 277.30v-1.40M520.93 22.85v1.40M536.22 277.30v-2.40M536.22 22.85v2.40M551.51 277.30v-1.40M551.51 22.85v1.40M566.80 277.30v-1.40M566.80 22.85v1.40M582.09 277.30v-1.40M582.09 22.85v1.40M597.38 277.30v-2.40M597.38 22.85v2.40M347.75 271.87h1.40M602.40 271.87h-1.40M347.75 259.04h1.40M602.40 259.04h-1.40M347.75 246.21h1.40M602.40 246.21h-1.40M347.75 233.38h2.40M602.40 233.38h-2.40M347.75 220.55h1.40M602.40 220.55h-1.40M347.75 207.72h1.40M602.40 207.72h-1.40M347.75 194.89h1.40M602.40 194.89h-1.40M347.75 182.06h2.40M602.40 182.06h-2.40M347.75 169.23h1.40M602.40 169.23h-1.40M347.75 156.40h1.40M602.40 156.40h-1.40M347.75 143.57h1.40M602.40 143.57h-1.40M347.75 130.74h2.40M602.40 130.74h-2.40M347.75 117.91h1.40M602.40 117.91h-1.40M347.75 105.08h1.40M602.40 105.08h-1.40M347.75 92.25h1.40M602.40 92.25h-1.40M347.75 79.42h2.40M602.40 79.42h-2.40M347.75 66.59h1.40M602.40 66.59h-1.40M347.75 53.76h1.40M602.40 53.76h-1.40M347.75 40.93h1.40M602.40 40.93h-1.40M347.75 28.10h2.40M602.40 28.10h-2.40" fill="none" stroke="#222" stroke-width="0.9"/>
<g font-family="'Liberation Serif', 'DejaVu Serif', serif" fill="#000" stroke="#000" stroke-width="0.1" font-size="12">
<text x="29.50" y="32.10" text-anchor="end">10</text>
<text x="29.50" y="83.42" text-anchor="end">8</text>
<text x="29.50" y="134.74" text-anchor="end">6</text>
<text x="29.50" y="186.06" text-anchor="end">4</text>
<text x="29.50" y="237.38" text-anchor="end">2</text>
<text x="343.90" y="32.10" text-anchor="end">10</text>
<text x="343.90" y="83.42" text-anchor="end">8</text>
<text x="343.90" y="134.74" text-anchor="end">6</text>
<text x="343.90" y="186.06" text-anchor="end">4</text>
<text x="343.90" y="237.38" text-anchor="end">2</text>
<text x="62.60" y="291" text-anchor="middle">−0.4</text>
<text x="111.60" y="291" text-anchor="middle">−0.2</text>
<text x="160.60" y="291" text-anchor="middle">0.0</text>
<text x="209.60" y="291" text-anchor="middle">0.2</text>
<text x="258.60" y="291" text-anchor="middle">0.4</text>
<text x="352.74" y="291" text-anchor="middle">−0.2</text>
<text x="413.90" y="291" text-anchor="middle">0.0</text>
<text x="475.06" y="291" text-anchor="middle">0.2</text>
<text x="536.22" y="291" text-anchor="middle">0.4</text>
<text x="597.38" y="291" text-anchor="middle">0.6</text>
</g>
<g font-family="'Liberation Serif', 'DejaVu Serif', serif" fill="#000" stroke="#000" stroke-width="0.2" font-size="14">
<text x="161.6" y="13.3" text-anchor="middle" font-size="14.6" letter-spacing="0.55">Type−I</text>
<text x="476.6" y="13.3" text-anchor="middle" font-size="14.6" letter-spacing="0.55">Type−II</text>
<text x="146.90" y="306" font-style="italic"><tspan font-size="14">c</tspan><tspan font-size="11" dx="1.2" dy="2.4" letter-spacing="0.45">β−α</tspan></text>
<text x="461.40" y="306" font-style="italic"><tspan font-size="14">c</tspan><tspan font-size="11" dx="1.2" dy="2.4" letter-spacing="0.45">β−α</tspan></text>
<text transform="translate(12.60 165.2) rotate(-90)" font-size="14.7" letter-spacing="0.9">tan<tspan font-style="italic">β</tspan></text>
<text transform="translate(327.00 165.2) rotate(-90)" font-size="14.7" letter-spacing="0.9">tan<tspan font-style="italic">β</tspan></text>
</g>
</svg>
</body>
</html>
